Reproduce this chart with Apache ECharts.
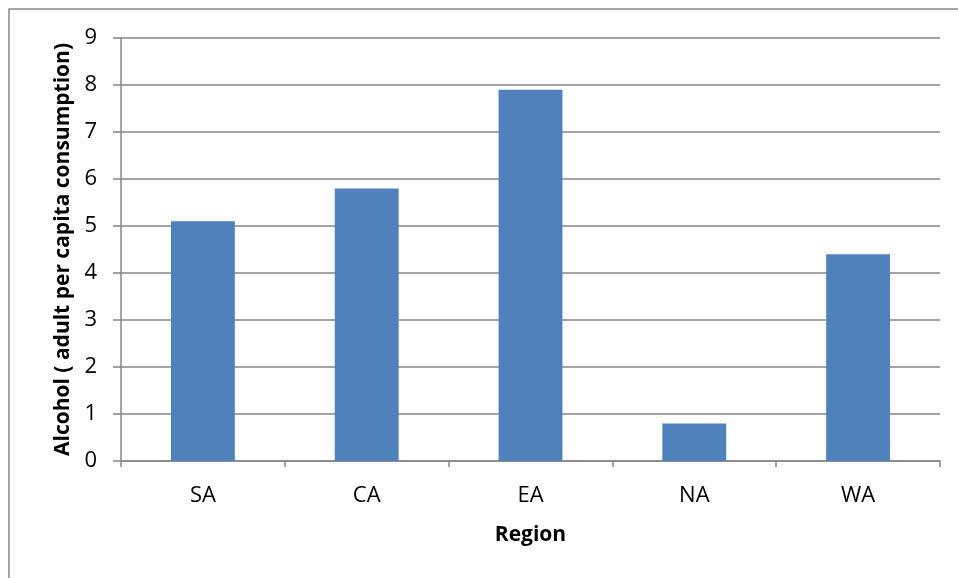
<!DOCTYPE html>
<html>
<head>
<meta charset="utf-8">
<script src="https://cdn.jsdelivr.net/npm/echarts@6/dist/echarts.min.js"></script>
<style>
  html, body { margin: 0; padding: 0; background: #fff; }
  #chart { width: 958px; height: 578px; }
</style>
</head>
<body>
<div id="chart"></div>
<script>
const regions = ['SA', 'CA', 'EA', 'NA', 'WA'];
const alcohol = [5.1, 5.8, 7.9, 0.8, 4.4];
const yTicks = [0, 1, 2, 3, 4, 5, 6, 7, 8, 9];

const chart = echarts.init(document.getElementById('chart'));
const font = '"Open Sans", "Noto Sans", sans-serif';

chart.setOption({
  backgroundColor: '#fff',
  animation: false,
  graphic: [{
    type: 'rect',
    shape: { x: 9, y: 9, width: 1000, height: 600 },
    style: { fill: 'none', stroke: '#888', lineWidth: 1.5 }
  }],
  grid: { left: 121, right: 18, top: 38, bottom: 117 },
  xAxis: {
    type: 'category',
    data: regions,
    name: 'Region',
    nameLocation: 'middle',
    nameGap: 64,
    nameTextStyle: { fontFamily: font, fontWeight: 'bold', fontSize: 21, color: '#000' },
    axisLine: { lineStyle: { color: '#868686', width: 1.5 } },
    axisTick: { show: true, length: 6, alignWithLabel: false, lineStyle: { color: '#868686', width: 1.5 } },
    axisLabel: { fontFamily: font, fontSize: 22, color: '#000', margin: 24 }
  },
  yAxis: {
    type: 'value',
    min: yTicks[0],
    max: yTicks[yTicks.length - 1],
    interval: 1,
    name: 'Alcohol ( adult per capita consumption)',
    nameLocation: 'middle',
    nameGap: 46,
    nameTextStyle: { fontFamily: font, fontWeight: 'bold', fontSize: 21, color: '#000' },
    axisLine: { show: true, lineStyle: { color: '#868686', width: 1.5 } },
    axisTick: { show: true, length: 8, lineStyle: { color: '#868686', width: 1.5 } },
    axisLabel: { fontFamily: font, fontSize: 22, color: '#000', margin: 24 },
    splitLine: { lineStyle: { color: '#868686', width: 1.5 } }
  },
  series: [{
    type: 'bar',
    data: alcohol,
    barWidth: '39%',
    itemStyle: { color: '#4f81bd' }
  }]
});
</script>
</body>
</html>
